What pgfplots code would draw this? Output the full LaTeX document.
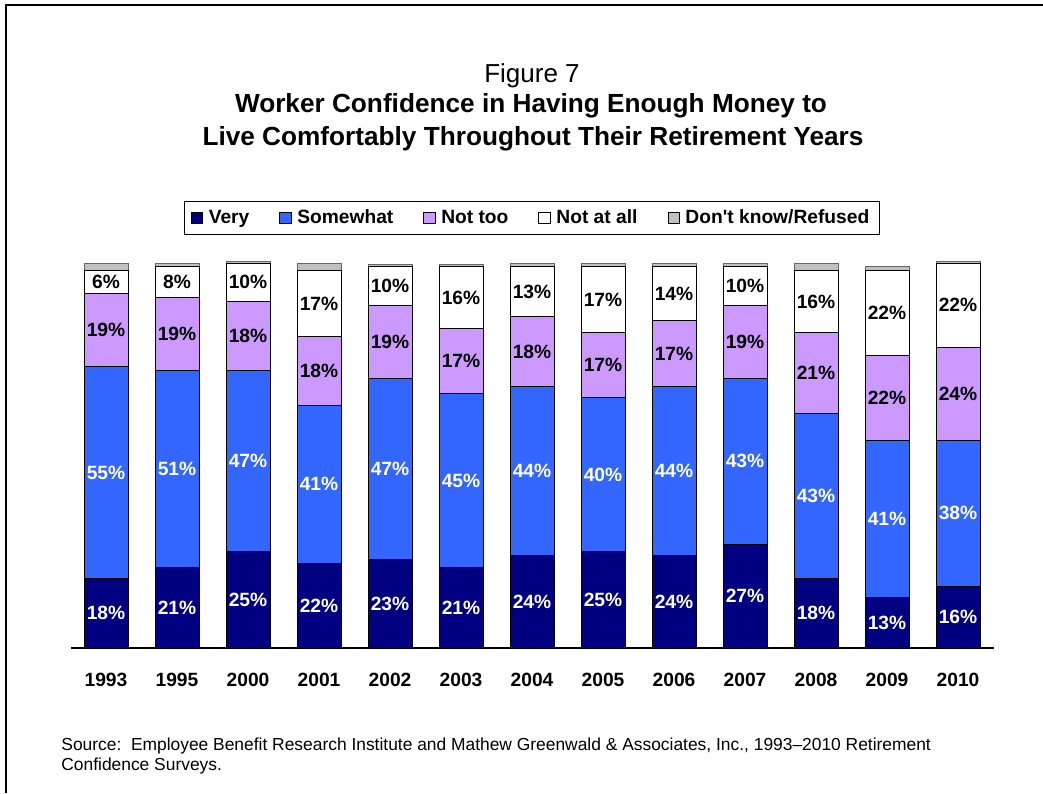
\documentclass[border=0pt]{standalone}
\usepackage{fontspec}
\setmainfont{Liberation Sans}
\usepackage{pgfplots}
\usepackage{pgfplotstable}
\pgfplotsset{compat=1.18}

\definecolor{very}{RGB}{0,0,128}
\definecolor{somewhat}{RGB}{51,102,255}
\definecolor{nottoo}{RGB}{204,153,255}
\definecolor{dk}{RGB}{192,192,192}

% x: position of the survey year on the axis
\pgfplotstableread{
x  very some nottoo notatall dk
0  18   55   19     6        2
1  21   51   19     8        1
2  25   47   18     10       0.5
3  22   41   18     17       2
4  23   47   19     10       0.5
5  21   45   17     16       0.5
6  24   44   18     13       1
7  25   40   17     17       1
8  24   44   17     14       1
9  27   43   19     10       1
10 18   43   21     16       2
11 13   41   22     22       1
12 16   38   24     22       0.5
}\rcs

\newcommand\lblfont{\bfseries\fontsize{9.6bp}{11bp}\selectfont}

\begin{document}
\begin{tikzpicture}[x=1bp,y=1bp]
\useasboundingbox (0,0) rectangle (521.5,396.5);
\draw[line width=1bp] (3,0) -- (3,394) -- (521.5,394);

\node[anchor=base,font=\fontsize{13bp}{15bp}\selectfont] at (266,355.5) {Figure 7};
\node[anchor=base,font=\bfseries\fontsize{13.1bp}{15bp}\selectfont] at (265.5,340.5) {Worker Confidence in Having Enough Money to};
\node[anchor=base,font=\bfseries\fontsize{13.1bp}{15bp}\selectfont] at (266.5,324) {Live Comfortably Throughout Their Retirement Years};

\node[anchor=base west,inner sep=0pt,font=\fontsize{8.7bp}{10bp}\selectfont] at (30.5,21.5) {Source:\ \ Employee Benefit Research Institute and Mathew Greenwald \& Associates, Inc., 1993--2010 Retirement};
\node[anchor=base west,inner sep=0pt,font=\fontsize{8.7bp}{10bp}\selectfont] at (30.5,11.5) {Confidence Surveys.};

\begin{axis}[
    at={(35.25bp,72.5bp)}, anchor=south west,
    scale only axis, width=461.5bp, height=192.5bp,
    ybar stacked, bar width=22bp,
    xmin=-0.5, xmax=12.5, ymin=0, ymax=100,
    axis x line*=bottom, axis y line=none,
    x axis line style={line width=0.6bp},
    xtick=data,
    xticklabels={1993,1995,2000,2001,2002,2003,2004,2005,2006,2007,2008,2009,2010},
    major tick length=0pt,
    xticklabel style={font=\lblfont, yshift=-9bp},
    clip=false,
    /pgf/number format/assume math mode=true,
    every axis plot/.append style={draw=black, line width=0.5bp},
    legend image code/.code={\draw[#1, draw=black, line width=0.4bp] (0bp,-2.9bp) rectangle (5.6bp,2.7bp);},
    legend style={at={(rel axis cs:0.5,1.117)}, anchor=center, legend columns=5,
        draw=black, line width=0.6bp, font=\lblfont,
        /tikz/every odd column/.append style={column sep=1bp},
        /tikz/every even column/.append style={column sep=13bp}},
    every node near coord/.append style={anchor=center, font=\lblfont},
    nodes near coords={\pgfmathprintnumber{\pgfplotspointmeta}\%},
]
\addplot[fill=very, point meta=\thisrow{very},
    every node near coord/.append style={text=white}] table[x=x,y=very]{\rcs};
\addlegendentry{Very}
\addplot[fill=somewhat, point meta=\thisrow{some},
    every node near coord/.append style={text=white}] table[x=x,y=some]{\rcs};
\addlegendentry{Somewhat}
\addplot[fill=nottoo, point meta=\thisrow{nottoo}] table[x=x,y=nottoo]{\rcs};
\addlegendentry{Not too}
\addplot[fill=white, point meta=\thisrow{notatall}] table[x=x,y=notatall]{\rcs};
\addlegendentry{Not at all}
\addplot[fill=dk, draw=black!60, nodes near coords={}] table[x=x,y=dk]{\rcs};
\addlegendentry{Don\textquotesingle t know/Refused}
\end{axis}
\end{tikzpicture}
\end{document}
